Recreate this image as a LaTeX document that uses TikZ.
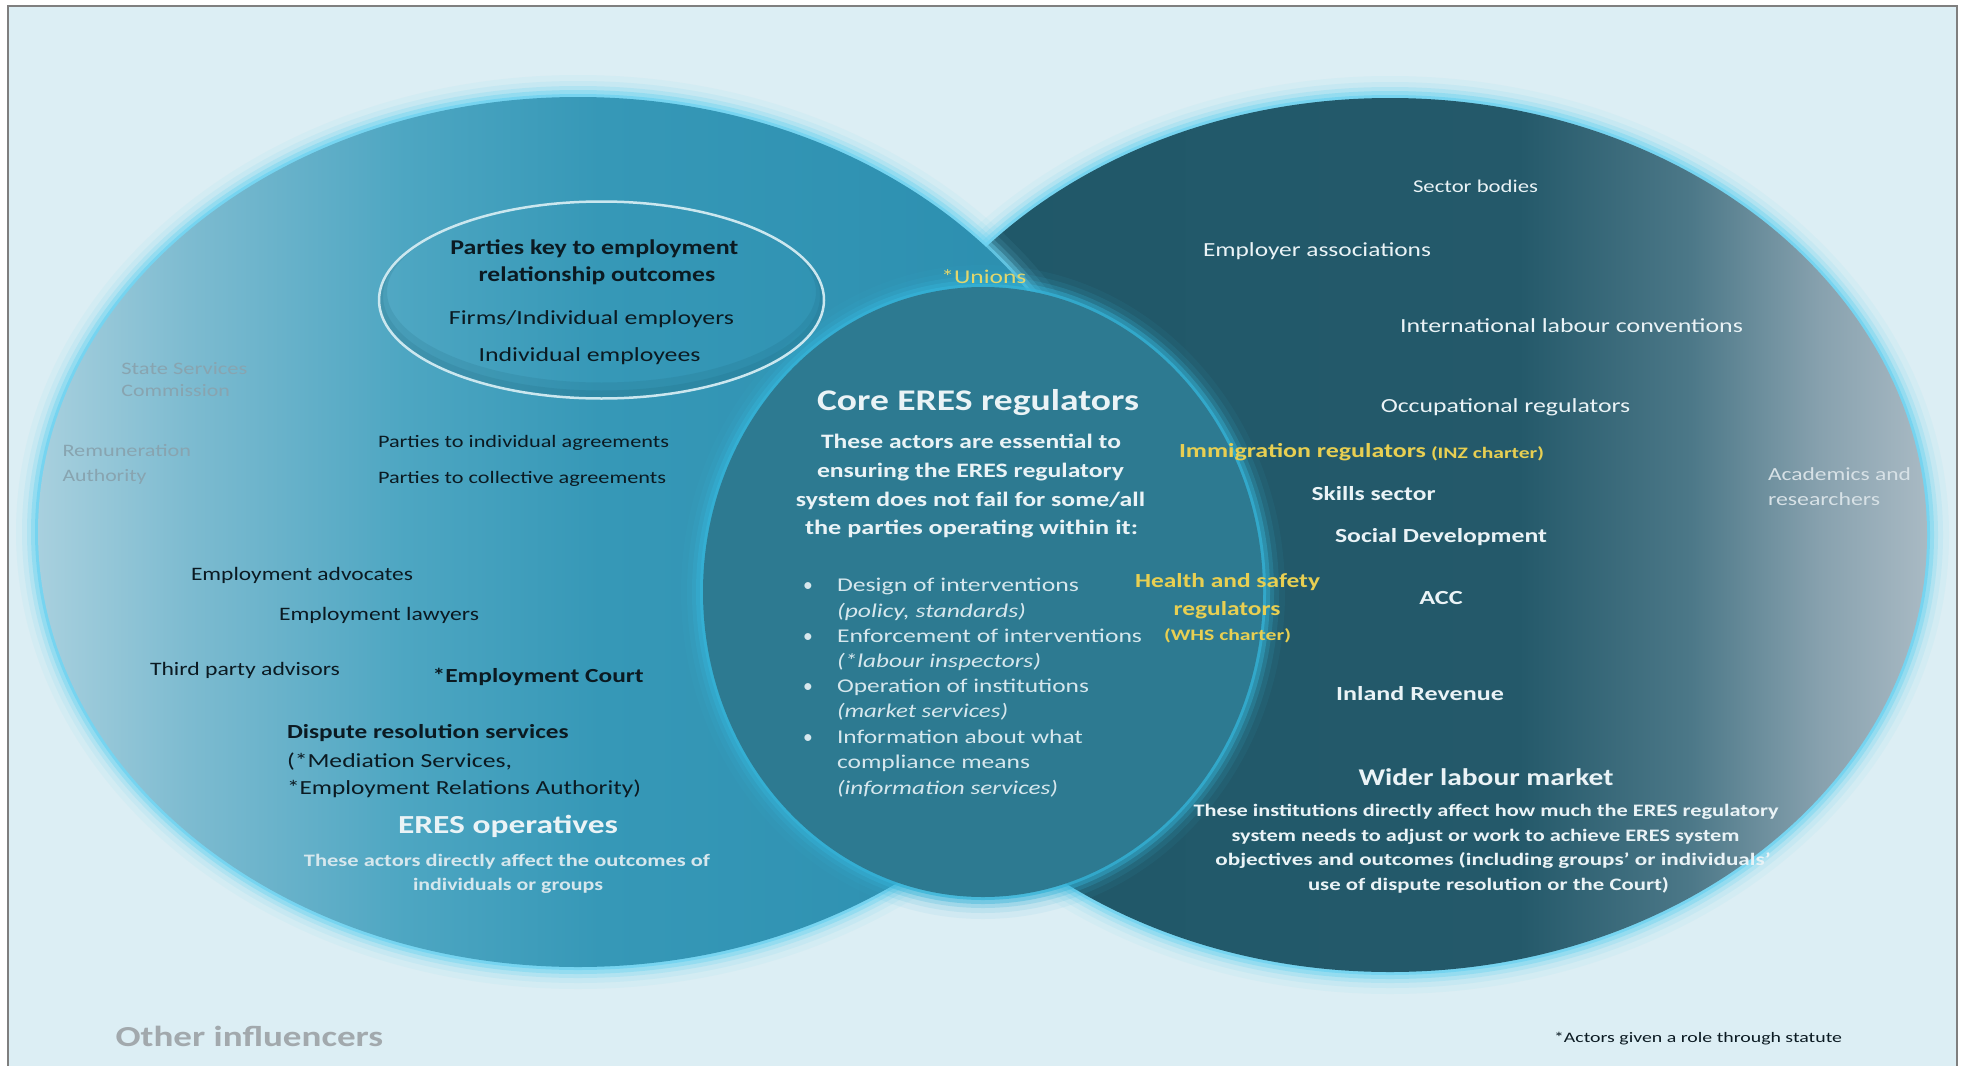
\documentclass[tikz,border=0pt]{standalone}
\usepackage{fontspec}
\setmainfont{Carlito}
\usepackage{graphicx}
\definecolor{bgc}{HTML}{DCEEF4}
\definecolor{framec}{HTML}{7F7F7F}
\definecolor{glowc}{HTML}{6AD2F0}
\definecolor{cglow}{HTML}{35B3D8}
\definecolor{corec}{HTML}{2D7A91}
\definecolor{lA}{HTML}{A8D0DE}
\definecolor{lB}{HTML}{7DBBD0}
\definecolor{lC}{HTML}{4DA6C2}
\definecolor{lD}{HTML}{3698B7}
\definecolor{lE}{HTML}{2A8DAE}
\definecolor{rA}{HTML}{1F5869}
\definecolor{rB}{HTML}{24596A}
\definecolor{rC}{HTML}{4C7888}
\definecolor{rD}{HTML}{87A1AE}
\definecolor{rE}{HTML}{A9BAC4}
\definecolor{ringc}{HTML}{CBE7EF}
\definecolor{shadowc}{HTML}{16566A}
\definecolor{dark}{HTML}{0B1A22}
\definecolor{lite}{HTML}{EAF3F6}
\definecolor{lite2}{HTML}{D6E7ED}
\definecolor{yel}{HTML}{E8CF52}
\definecolor{yel2}{HTML}{E2D66C}
\definecolor{grayt}{HTML}{88A4B0}
\definecolor{otherc}{HTML}{A2A9AD}
\definecolor{acad}{HTML}{D7E1E6}
\pgfdeclarehorizontalshading{leftshade}{100bp}{color(0bp)=(lA); color(25bp)=(lA); color(32bp)=(lB); color(42bp)=(lC); color(51bp)=(lD); color(75bp)=(lE); color(100bp)=(lE)}
\pgfdeclarehorizontalshading{rightshade}{100bp}{color(0bp)=(rA); color(25bp)=(rA); color(56bp)=(rB); color(64bp)=(rC); color(70bp)=(rD); color(75bp)=(rE); color(100bp)=(rE)}
\newcommand\fw[2]{\resizebox{#1pt}{\height}{#2}}
\newcommand\fsz[1]{\fontsize{#1pt}{#1pt}\selectfont}
\newcommand\glowell[5]{\foreach \k/\o in {22/0.07,16/0.12,11/0.22,7/0.4,3/0.7}{\fill[#5,fill opacity=\o] (#1,#2) ellipse [x radius=#3+\k, y radius=#4+\k];}}
\begin{document}
\begin{tikzpicture}[x=1pt,y=-1pt,
  t/.style={inner sep=0pt,outer sep=0pt,anchor=mid,yshift=-5pt},
  tw/.style={inner sep=0pt,outer sep=0pt,anchor=mid west,yshift=-5pt},
  dk/.style={text=dark},
  wt/.style={text=lite},
  bl/.style={tw,text=lite2,font=\fsz{19.5}}]
\useasboundingbox (0,0) rectangle (1969,1065);
\fill[white] (0,0) rectangle (1969,1065);
\fill[bgc] (8,6) rectangle (1957,1075);
\draw[framec,line width=2.5] (8,6) rectangle (1957,1075);
% right ellipse (wider labour market)
\glowell{1390}{535}{537}{437}{glowc}
\shade[shading=rightshade] (1390,535) ellipse [x radius=537, y radius=437];
% left ellipse (ERES operatives)
\glowell{578}{532}{540}{435}{glowc}
\shade[shading=leftshade] (578,532) ellipse [x radius=540, y radius=435];
% central circle (core regulators)
\glowell{983}{592}{280}{305}{cglow}
\fill[corec] (983,592) ellipse [x radius=280, y radius=305];
% parties ellipse
\begin{scope}
\clip (601.5,300) ellipse [x radius=222.5, y radius=98.5];
\draw[line width=16,shadowc,opacity=.12] (601.5,292) ellipse [x radius=222.5, y radius=98.5];
\draw[line width=8,shadowc,opacity=.12] (601.5,296) ellipse [x radius=222.5, y radius=98.5];
\end{scope}
\draw[line width=2.5,ringc] (601.5,300) ellipse [x radius=222.5, y radius=98.5];

% ---- left texts
\node[t,dk,font=\fsz{21}\bfseries] (pk1) at (594.4,246.7) {\fw{288}{Parties key to employment}};
\node[t,dk,font=\fsz{21}\bfseries] (pk2) at (596.9,274) {\fw{236.6}{relationship outcomes}};
\node[t,dk,font=\fsz{20}] (firms) at (591.5,316.7) {\fw{285}{Firms/Individual employers}};
\node[t,dk,font=\fsz{20}] (indiv) at (589.5,354) {\fw{222}{Individual employees}};
\node[t,text=yel2,font=\fsz{19.5}] (unions) at (983.9,276) {\fw{85}{*Unions}};
\node[tw,text=grayt,font=\fsz{17.5}] (ssc1) at (121.4,366.7) {\fw{126}{State Services}};
\node[tw,text=grayt,font=\fsz{17.5}] (ssc2) at (121.4,389) {\fw{108.5}{Commission}};
\node[tw,text=grayt,font=\fsz{17.5}] (rem1) at (62.5,449) {\fw{128.6}{Remuneration}};
\node[tw,text=grayt,font=\fsz{17.5}] (rem2) at (62.5,474) {\fw{84}{Authority}};
\node[tw,dk,font=\fsz{17.5}] (pia) at (378,440) {\fw{291}{Parties to individual agreements}};
\node[tw,dk,font=\fsz{17.5}] (pca) at (378,476) {\fw{288}{Parties to collective agreements}};
\node[tw,dk,font=\fsz{19}] (adv) at (191,573) {\fw{222}{Employment advocates}};
\node[tw,dk,font=\fsz{19}] (law) at (279,613) {\fw{200}{Employment lawyers}};
\node[tw,dk,font=\fsz{19}] (tpa) at (150,668) {\fw{190}{Third party advisors}};
\node[tw,dk,font=\fsz{20}\bfseries] (court) at (432.7,675) {\fw{211}{*Employment Court}};
\node[tw,dk,font=\fsz{20}\bfseries] (drs1) at (287,731) {\fw{281.6}{Dispute resolution services}};
\node[tw,dk,font=\fsz{20}] (drs2) at (287,760) {\fw{225}{(*Mediation Services,}};
\node[tw,dk,font=\fsz{20}] (drs3) at (287,787) {\fw{354}{*Employment Relations Authority)}};
\node[t,wt,font=\fsz{26}\bfseries] (op1) at (508,826) {\fw{220}{ERES operatives}};
\node[t,text=lite2,font=\fsz{17.5}\bfseries] (op2) at (507,859) {\fw{406}{These actors directly affect the outcomes of}};
\node[t,text=lite2,font=\fsz{17.5}\bfseries] (op3) at (508,883) {\fw{190}{individuals or groups}};

% ---- central texts
\node[t,wt,font=\fsz{30}\bfseries] (core1) at (978,403) {\fw{322}{Core ERES regulators}};
\node[t,wt,font=\fsz{20.5}\bfseries] (core2) at (971,441) {\fw{300}{These actors are essential to}};
\node[t,wt,font=\fsz{20.5}\bfseries] (core3) at (970.5,470) {\fw{307}{ensuring the ERES regulatory}};
\node[t,wt,font=\fsz{20.5}\bfseries] (core4) at (970.5,499) {\fw{349}{system does not fail for some/all}};
\node[t,wt,font=\fsz{20.5}\bfseries] (core5) at (971.5,527) {\fw{333}{the parties operating within it:}};
\node[t,text=lite2,font=\fsz{19.5}] (dot1) at (808,584) {•};
\node[t,text=lite2,font=\fsz{19.5}] (dot2) at (808,635) {•};
\node[t,text=lite2,font=\fsz{19.5}] (dot3) at (808,685) {•};
\node[t,text=lite2,font=\fsz{19.5}] (dot4) at (808,736) {•};
\node[bl] (bl1) at (837,584) {\fw{242}{Design of interventions}};
\node[bl,font=\fsz{19.5}\itshape] (bl2) at (837,610) {\fw{189}{(policy, standards)}};
\node[bl] (bl3) at (837,635) {\fw{305}{Enforcement of interventions}};
\node[bl,font=\fsz{19.5}\itshape] (bl4) at (837,660) {\fw{204}{(*labour inspectors)}};
\node[bl] (bl5) at (837,685) {\fw{252}{Operation of institutions}};
\node[bl,font=\fsz{19.5}\itshape] (bl6) at (837,710) {\fw{171}{(market services)}};
\node[bl] (bl7) at (837,736) {\fw{246}{Information about what}};
\node[bl] (bl8) at (837,761) {\fw{193}{compliance means}};
\node[bl,font=\fsz{19.5}\itshape] (bl9) at (837,787) {\fw{221}{(information services)}};

% ---- right texts
\node[t,wt,font=\fsz{18}] (sector) at (1475.5,185) {\fw{125}{Sector bodies}};
\node[t,wt,font=\fsz{20}] (empa) at (1317,249) {\fw{228}{Employer associations}};
\node[t,wt,font=\fsz{20}] (ilc) at (1571.5,325) {\fw{343}{International labour conventions}};
\node[t,wt,font=\fsz{20}] (occ) at (1505.5,405) {\fw{249.5}{Occupational regulators}};
\node[tw,text=yel,font=\fsz{20}\bfseries] (imm1) at (1179,450) {\fw{247}{Immigration regulators}};
\node[tw,text=yel,font=\fsz{16}\bfseries] (imm2) at (1431,451) {\fw{113}{(INZ charter)}};
\node[t,wt,font=\fsz{20}\bfseries] (skills) at (1373.5,493) {\fw{124}{Skills sector}};
\node[t,wt,font=\fsz{20}\bfseries] (social) at (1441,535) {\fw{212}{Social Development}};
\node[t,text=yel,font=\fsz{20}\bfseries] (hs1) at (1227.5,580) {\fw{185}{Health and safety}};
\node[t,text=yel,font=\fsz{20}\bfseries] (hs2) at (1227,608) {\fw{107}{regulators}};
\node[t,text=yel,font=\fsz{16}\bfseries] (hs3) at (1227.5,633) {\fw{127}{(WHS charter)}};
\node[t,wt,font=\fsz{20}\bfseries] (acc) at (1441,597) {\fw{43.5}{ACC}};
\node[t,wt,font=\fsz{20}\bfseries] (ird) at (1420,693) {\fw{167.6}{Inland Revenue}};
\node[t,wt,font=\fsz{24}\bfseries] (wlm1) at (1486,778) {\fw{255}{Wider labour market}};
\node[t,wt,font=\fsz{17.5}\bfseries] (wlm2) at (1486,809) {\fw{585}{These institutions directly affect how much the ERES regulatory}};
\node[t,wt,font=\fsz{17.5}\bfseries] (wlm3) at (1485.5,834) {\fw{508}{system needs to adjust or work to achieve ERES system}};
\node[t,wt,font=\fsz{17.5}\bfseries] (wlm4) at (1493,858) {\fw{555}{objectives and outcomes (including groups’ or individuals’}};
\node[t,wt,font=\fsz{17.5}\bfseries] (wlm5) at (1488.5,883) {\fw{361}{use of dispute resolution or the Court)}};
\node[tw,text=acad,font=\fsz{18.5}] (acad1) at (1768,473) {\fw{143}{Academics and}};
\node[tw,text=acad,font=\fsz{18.5}] (acad2) at (1768,498) {\fw{112}{researchers}};

% ---- bottom texts
\node[tw,text=otherc,font=\fsz{29}\bfseries] (other) at (115.6,1039) {\fw{267.6}{Other influencers}};
\node[tw,dk,font=\fsz{14.5}] (statute) at (1554,1035) {\fw{288}{*Actors given a role through statute}};
\end{tikzpicture}
\end{document}
